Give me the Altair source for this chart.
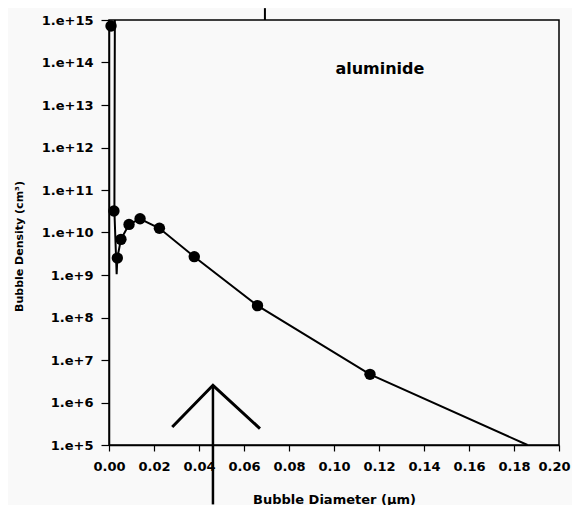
import altair as alt
import pandas as pd

# measured bubble data (markers)
pt_x = [0.0009, 0.0022, 0.0037, 0.0053, 0.0089, 0.0138, 0.0224, 0.0379, 0.066, 0.116]
pt_y = [7.2e14, 3.2e10, 2.5e9, 6.9e9, 1.55e10, 2.1e10, 1.26e10, 2.7e9, 1.9e8, 4.6e6]

# fitted curve
ln_x = [0.0026, 0.0024, 0.0034, 0.0037, 0.0053, 0.0089, 0.0138, 0.0224, 0.0379, 0.066, 0.116, 0.186]
ln_y = [1.0e15, 3.2e10, 1.05e9, 2.5e9, 6.9e9, 1.55e10, 2.1e10, 1.26e10, 2.7e9, 1.9e8, 4.6e6, 1.0e5]

# arrow (inverted V) and its stem
arr_x = [0.0281, 0.0462, 0.0671]
arr_y = [2.65e5, 2.54e6, 2.43e5]
stem_x = [0.0462, 0.0462]
stem_y = [2.54e6, 4.0e3]

# small mark above the frame
top_x = [0.0693, 0.0693]
top_y = [1.0e15, 1.9e15]

label_x = [0.1204]
label_y = [7.2e13]
label_t = ["aluminide"]

x_ticks = [0.0, 0.02, 0.04, 0.06, 0.08, 0.10, 0.12, 0.14, 0.16, 0.18, 0.20]
y_ticks = [1e5, 1e6, 1e7, 1e8, 1e9, 1e10, 1e11, 1e12, 1e13, 1e14, 1e15]

pts = pd.DataFrame({"x": pt_x, "y": pt_y})
line = pd.DataFrame({"x": ln_x, "y": ln_y, "o": list(range(len(ln_x)))})
arr = pd.DataFrame({"x": arr_x, "y": arr_y, "o": [0, 1, 2]})
stem = pd.DataFrame({"x": stem_x, "y": stem_y, "o": [0, 1]})
topm = pd.DataFrame({"x": top_x, "y": top_y, "o": [0, 1]})
lab = pd.DataFrame({"x": label_x, "y": label_y, "t": label_t})

FONT = "DejaVu Sans"

xs = alt.Scale(domain=[0, 0.2], nice=False, zero=False)
ys = alt.Scale(type="log", domain=[1e5, 1e15], nice=False)

xax = alt.Axis(
    values=x_ticks, format=".2f", title="Bubble Diameter (\u00b5m)", grid=False,
    tickSize=6, labelPadding=9, labelFont=FONT, labelFontSize=13, labelFontWeight="bold",
    labelColor="black", labelFlush=False, labelOverlap=False,
    labelOffset={"condition": {"test": "datum.value >= 0.199", "value": -5}, "value": 0},
    titleFont=FONT, titleFontSize=13, titleFontWeight="bold", titleColor="black",
    titleY=54, titleBaseline="middle",
    domainColor="black", domainWidth=1.5, tickColor="black", tickWidth=1.2,
)
yax = alt.Axis(
    values=y_ticks, labelExpr="'1.e+' + round(log(datum.value)/LN10)",
    title="Bubble Density (cm\u00b3)", grid=False,
    tickSize=8, labelPadding=8, labelFont=FONT, labelFontSize=13, labelFontWeight="bold",
    labelColor="black", labelFlush=False, labelOverlap=False,
    titleFont=FONT, titleFontSize=11, titleFontWeight="bold", titleColor="black",
    titleX=-90, titleY=226, titleAngle=-90, titleBaseline="middle", titleAlign="center",
    domainColor="black", domainWidth=1.5, tickColor="black", tickWidth=1.2,
)

X = alt.X("x:Q", scale=xs, axis=xax)
Y = alt.Y("y:Q", scale=ys, axis=yax)
Xn = alt.X("x:Q", scale=xs)
Yn = alt.Y("y:Q", scale=ys)

curve = alt.Chart(line).mark_line(color="black", strokeWidth=2, clip=False).encode(
    x=X, y=Y, order="o:Q")
dots = alt.Chart(pts).mark_circle(color="black", opacity=1, size=130, clip=False).encode(x=Xn, y=Yn)
arrow = alt.Chart(arr).mark_line(color="black", strokeWidth=3, clip=False).encode(
    x=Xn, y=Yn, order="o:Q")
stemc = alt.Chart(stem).mark_line(color="black", strokeWidth=2.5, clip=False).encode(
    x=Xn, y=Yn, order="o:Q")
topc = alt.Chart(topm).mark_line(color="black", strokeWidth=2, clip=False).encode(
    x=Xn, y=Yn, order="o:Q")
txt = alt.Chart(lab).mark_text(font=FONT, fontSize=16, fontWeight="bold", color="black",
                               align="center", baseline="middle").encode(x=Xn, y=Yn, text="t:N")

chart = alt.layer(curve, dots, arrow, stemc, topc, txt).properties(
    width=450, height=425,
    autosize=alt.AutoSizeParams(type="none"),
    padding={"left": 101, "top": 12, "right": 13, "bottom": 60},
    background="#f9f9f9",
).configure_view(stroke="black", strokeWidth=1.5)

chart.save("out.html", embed_options={"renderer": "svg", "actions": False})
